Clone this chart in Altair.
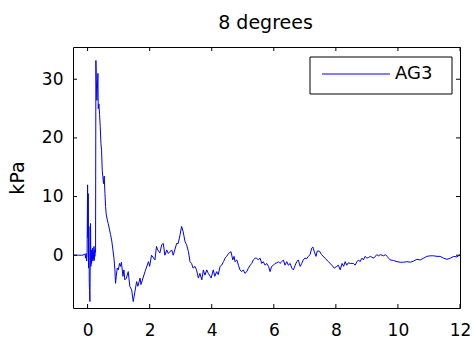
import altair as alt
import pandas as pd

# ---- data ----
t_s = [
    -0.47, -0.30, -0.15, -0.10, -0.08, -0.065, -0.05, -0.03, -0.015, 0.0,
    0.01, 0.02, 0.03, 0.042, 0.055, 0.064, 0.075, 0.085, 0.095, 0.106,
    0.117, 0.128, 0.14, 0.149, 0.16, 0.171, 0.182, 0.193, 0.205, 0.214,
    0.225, 0.235, 0.246, 0.257, 0.268, 0.28, 0.30, 0.32, 0.333, 0.343,
    0.365, 0.386, 0.408, 0.43, 0.45, 0.472, 0.49, 0.515, 0.535, 0.56,
    0.58, 0.60, 0.635, 0.665, 0.71, 0.74, 0.775, 0.816, 0.85, 0.88,
    0.90, 0.924, 0.955, 0.99, 1.03, 1.06, 1.09, 1.14, 1.17, 1.20,
    1.25, 1.31, 1.36, 1.42, 1.47, 1.50, 1.58, 1.62, 1.69, 1.72,
    1.85, 1.96, 2.00, 2.06, 2.17, 2.22, 2.26, 2.33, 2.39, 2.44,
    2.49, 2.55, 2.60, 2.71, 2.76, 2.87, 2.92, 2.98, 3.03, 3.08,
    3.14, 3.19, 3.25, 3.30, 3.35, 3.40, 3.46, 3.51, 3.57, 3.62,
    3.68, 3.73, 3.78, 3.84, 3.89, 3.95, 3.98, 4.05, 4.10, 4.16,
    4.21, 4.27, 4.32, 4.38, 4.43, 4.48, 4.54, 4.62, 4.68, 4.72,
    4.75, 4.81, 4.86, 4.91, 4.97, 5.02, 5.07, 5.13, 5.18, 5.24,
    5.29, 5.34, 5.40, 5.45, 5.50, 5.56, 5.61, 5.66, 5.72, 5.77,
    5.83, 5.88, 5.93, 5.99, 6.04, 6.10, 6.15, 6.20, 6.26, 6.31,
    6.36, 6.42, 6.47, 6.53, 6.58, 6.63, 6.69, 6.74, 6.79, 6.85,
    6.90, 6.95, 7.00, 7.06, 7.11, 7.17, 7.22, 7.26, 7.30, 7.36,
    7.40, 7.47, 7.54, 7.65, 7.76, 7.87, 7.95, 8.03, 8.08, 8.14,
    8.20, 8.25, 8.30, 8.35, 8.40, 8.46, 8.57, 8.62, 8.68, 8.73,
    8.78, 8.84, 8.89, 8.94, 9.00, 9.05, 9.11, 9.22, 9.32, 9.38,
    9.43, 9.54, 9.60, 9.65, 9.70, 9.75, 9.86, 9.97, 10.08, 10.18,
    10.29, 10.40, 10.50, 10.61, 10.72, 10.83, 10.93, 11.04, 11.15, 11.26,
    11.36, 11.47, 11.58, 11.69, 11.80, 11.90, 12.00,
]
kpa = [
    0.0, 0.0, 0.0, 0.2, 0.0, -0.5, 0.3, -1.0, 0.5, 12.0,
    3.0, 10.5, -2.2, 4.9, -4.7, -6.0, -7.9, -1.4, 5.4, -1.9,
    0.9, -1.4, 0.3, -0.8, 1.2, -1.0, 0.5, -0.6, 1.5, -0.9,
    0.8, -0.2, 1.0, 0.5, 33.2, 30.0, 26.4, 29.2, 31.0, 25.0,
    25.8, 24.0, 21.9, 19.0, 17.9, 14.5, 13.4, 12.2, 13.5, 10.5,
    8.3, 7.0, 6.0, 5.4, 4.3, 3.5, 2.6, 0.9, -0.5, -2.5,
    -4.8, -3.6, -2.2, -2.5, -1.4, -1.9, -1.2, -3.6, -2.5, -4.2,
    -3.9, -2.8, -5.3, -5.9, -7.9, -7.0, -4.5, -5.3, -3.9, -5.0,
    -2.8, -1.1, -1.9, 0.0, -0.8, 1.5, 0.9, 0.4, 1.8, 2.0,
    0.0, 0.9, 0.3, 0.9, 0.0, 2.0, 2.0, 3.5, 4.9, 4.0,
    2.3, 1.8, 0.6, -1.1, -1.4, -2.2, -1.9, -2.5, -3.9, -3.1,
    -4.2, -2.5, -3.4, -2.5, -3.1, -3.6, -3.9, -2.5, -3.6, -2.8,
    -3.3, -1.9, -1.7, -1.1, -0.5, -0.2, 0.3, 0.6, -0.8, -0.2,
    -1.1, -0.8, -1.7, -2.5, -2.8, -2.5, -3.1, -2.8, -2.2, -1.7,
    -1.4, -0.8, -0.5, -0.5, -0.8, -0.5, -1.4, -1.1, -1.7, -1.4,
    -1.9, -2.8, -1.9, -1.7, -1.4, -1.3, -1.1, -1.4, -1.1, -0.8,
    -1.7, -1.1, -1.7, -1.4, -2.2, -2.5, -1.7, -1.1, -0.8, -1.9,
    -1.4, -0.8, -0.5, -0.6, -0.2, 0.1, 1.2, 1.4, 0.7, -0.2,
    0.7, 0.7, 0.1, -0.5, -1.1, -1.7, -2.2, -1.9, -1.7, -2.5,
    -1.4, -1.9, -1.1, -1.7, -1.3, -1.4, -1.4, -1.7, -1.1, -0.8,
    -1.1, -0.5, -0.8, -0.2, -0.5, -0.4, -0.2, -0.5, 0.1, -0.1,
    0.1, -0.1, 0.1, -0.2, -0.5, -0.8, -0.9, -1.1, -1.2, -1.2,
    -1.1, -1.2, -1.0, -0.7, -0.8, -0.5, -0.2, -0.1, -0.1, -0.2,
    -0.2, -0.5, -0.7, -0.5, -0.2, -0.3, 0.1,
]
series = ["AG3"]
title_text = ["8 degrees"]
x_ticks = [0, 2, 4, 6, 8, 10, 12]
y_ticks = [0, 10, 20, 30]
x_domain = [-0.47, 12]
y_domain = [-9, 35.5]

assert len(t_s) == len(kpa)

W, H = 387, 261
FONT = "DejaVu Sans"
BLUE = "#0000ff"

df = pd.DataFrame({"t": t_s, "kPa": kpa, "series": series[0]})
xt = pd.DataFrame({"t": x_ticks})
yt = pd.DataFrame({"kPa": y_ticks})
leg = pd.DataFrame({"series": series})
ttl = pd.DataFrame({"title": title_text})

xs = alt.Scale(domain=x_domain, nice=False, zero=False)
ys = alt.Scale(domain=y_domain, nice=False, zero=False)

x_axis = alt.Axis(
    values=x_ticks, title=None, ticks=False, tickSize=0, domain=False,
    grid=False, labelFlush=False, labelPadding=27, labelBaseline="alphabetic",
    labelFont=FONT, labelFontSize=17, labelColor="black")
y_axis = alt.Axis(
    values=y_ticks, title="kPa", ticks=False, tickSize=0, domain=False,
    grid=False, labelPadding=10, labelFont=FONT, labelFontSize=17,
    labelColor="black", labelFlush=False,
    titleFont=FONT, titleFontSize=19, titleFontWeight="normal",
    titleColor="black", titleAngle=270, titleX=-50, titleY=H / 2,
    titleBaseline="alphabetic", titleAlign="center")

X = alt.X("t:Q", scale=xs, axis=x_axis)
Y = alt.Y("kPa:Q", scale=ys, axis=y_axis)

line = alt.Chart(df).mark_line(color=BLUE, strokeWidth=1, clip=True).encode(x=X, y=Y)

bt = alt.Chart(xt).mark_rule(color="black", strokeWidth=1).encode(
    x=X, y=alt.value(H), y2=alt.value(H - 4))
tt = alt.Chart(xt).mark_rule(color="black", strokeWidth=1).encode(
    x=X, y=alt.value(0), y2=alt.value(4))
lt = alt.Chart(yt).mark_rule(color="black", strokeWidth=1).encode(
    y=Y, x=alt.value(0), x2=alt.value(4))
rt = alt.Chart(yt).mark_rule(color="black", strokeWidth=1).encode(
    y=Y, x=alt.value(W), x2=alt.value(W - 4))

box = alt.Chart(leg).mark_rect(fill="white", stroke="black", strokeWidth=1).encode(
    x=alt.value(237), x2=alt.value(379), y=alt.value(10), y2=alt.value(47))
sym = alt.Chart(leg).mark_rule(color=BLUE, strokeWidth=1).encode(
    x=alt.value(249), x2=alt.value(317), y=alt.value(27))
txt = alt.Chart(leg).mark_text(align="left", baseline="middle", font=FONT,
                               fontSize=18, color="black").encode(
    x=alt.value(322), y=alt.value(27), text="series:N")

title_mark = alt.Chart(ttl).mark_text(align="center", baseline="alphabetic", font=FONT,
                                      fontSize=19, color="black").encode(
    x=alt.value(W / 2 - 1), y=alt.value(-18), text="title:N")

chart = alt.layer(line, bt, tt, lt, rt, box, sym, txt, title_mark).properties(
    width=W, height=H,
    padding={"left": 73, "top": 47, "right": 13, "bottom": 35},
    autosize=alt.AutoSizeParams(type="none"),
).configure_view(stroke="black", strokeWidth=1)

chart.save("out.html", embed_options={"renderer": "svg", "actions": False})
